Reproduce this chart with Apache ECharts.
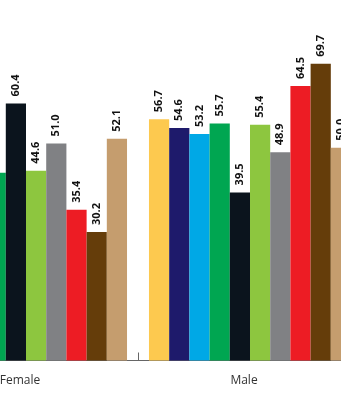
<!DOCTYPE html>
<html>
<head>
<meta charset="utf-8">
<script src="https://cdn.jsdelivr.net/npm/echarts@6/dist/echarts.min.js"></script>
<style>
  html, body { margin: 0; padding: 0; background: #fff; overflow: hidden; }
  body { width: 341px; height: 400px; position: relative; }
  /* the chart is wider than the window: the outer bars are cropped like the original */
  #chart { position: absolute; left: -86px; top: 0; width: 448px; height: 400px; }
</style>
</head>
<body>
<div id="chart"></div>
<script>
const categories = ['Female', 'Male'];

// one entry per bar series: [Female, Male]
const seriesValues = [
    [52.0, 56.7],
    [50.0, 54.6],
    [48.0, 53.2],
    [44.1, 55.7],
    [60.4, 39.5],
    [44.6, 55.4],
    [51.0, 48.9],
    [35.4, 64.5],
    [30.2, 69.7],
    [52.1, 50.0]
];

const seriesColors = ['#FDC94F', '#1E1A6B', '#00A8E6', '#00A651', '#0B141D',
    '#8DC63F', '#808184', '#ED1C24', '#653D0A', '#C59D6E'];

const chart = echarts.init(document.getElementById('chart'));

const option = {
    animation: false,
    grid: {
        left: 0,
        right: 0,
        top: 0,
        bottom: 39.5,
        containLabel: false
    },
    xAxis: {
        type: 'category',
        data: categories,
        axisLine: { lineStyle: { color: '#666', width: 1 } },
        axisTick: { show: true, inside: true, length: 8, lineStyle: { color: '#666' } },
        axisLabel: {
            color: '#333',
            fontFamily: 'Open Sans',
            fontSize: 12,
            margin: 14,
            padding: [0, 12, 0, 0]
        }
    },
    yAxis: {
        type: 'value',
        min: 0,
        max: 84.7,
        show: false,
        splitLine: { show: false }
    },
    series: seriesValues.map((vals, i) => ({
        type: 'bar',
        data: vals,
        barGap: 0,
        barCategoryGap: '9.8%',
        itemStyle: { color: seriesColors[i] },
        label: {
            show: true,
            position: 'top',
            rotate: 90,
            align: 'left',
            verticalAlign: 'middle',
            distance: 7,
            color: '#111',
            fontFamily: 'Open Sans',
            fontWeight: 'bold',
            fontSize: 11,
            formatter: (p) => p.value.toFixed(1)
        }
    }))
};

chart.setOption(option);
</script>
</body>
</html>
